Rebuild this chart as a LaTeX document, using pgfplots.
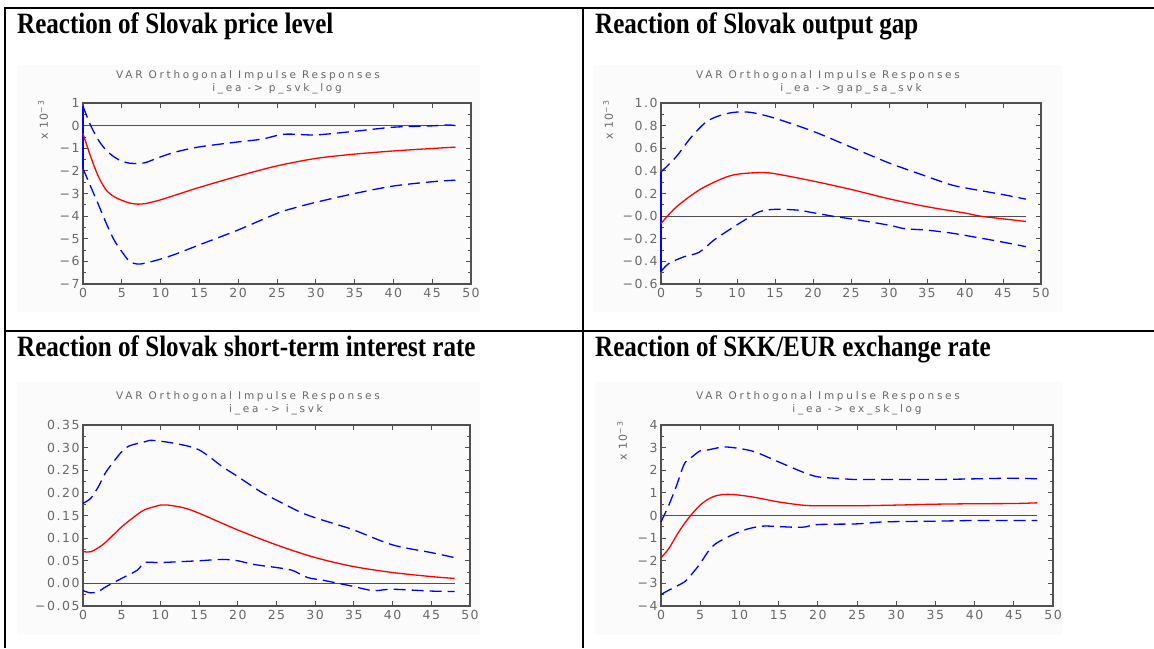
\documentclass[border=0pt]{standalone}
\usepackage{fontspec}
\usepackage{pgfplots}
\pgfplotsset{compat=1.18}
\newfontfamily\titlefont[FakeStretch=0.85]{Liberation Serif}
\newfontfamily\tickfont[LetterSpace=12]{DejaVu Sans}
\newfontfamily\headfont[LetterSpace=26]{DejaVu Sans}
\definecolor{axgray}{RGB}{80,80,80}
\definecolor{lblgray}{RGB}{105,105,105}
\definecolor{bggray}{RGB}{251,251,251}
\definecolor{irfred}{RGB}{255,0,0}
\definecolor{irfblue}{RGB}{0,0,255}

\pgfplotsset{
  irf/.style={
    scale only axis, anchor=south west, clip=false,
    xmin=0, xmax=50, xtick={0,5,...,50},
    xticklabels={0,5,10,15,20,25,30,35,40,45,50},
    axis line style={draw=axgray, line width=1.2pt},
    tick style={draw=axgray, line width=0.8pt},
    major tick length=5pt, minor tick length=3pt,
    minor y tick num=1,
    tick align=inside,
    tick label style={font=\fontsize{12.5}{12.5}\tickfont, text=lblgray},
    xticklabel style={yshift=-1pt},
  },
  band/.style={irfblue, line width=1.3pt, dash pattern=on 12pt off 6pt, smooth},
  mid/.style={irfred, line width=1.3pt, smooth},
  zero/.style={axgray, line width=1.2pt},
  edge/.style={irfblue, line width=1.3pt},
}
\newcommand\head[3]{%
  \node[font=\fontsize{10.5}{10.5}\headfont, text=lblgray] at (#1pt,#2pt) {#3};}

\begin{document}
\begin{tikzpicture}
\useasboundingbox (0,0) rectangle (1154pt,648pt);
% chart backgrounds
\fill[bggray] (17pt,336pt) rectangle (480pt,583pt);
\fill[bggray] (593pt,336pt) rectangle (1062pt,583pt);
\fill[bggray] (17pt,13pt) rectangle (480pt,266pt);
\fill[bggray] (595pt,13pt) rectangle (1062pt,266pt);

% table rules
\draw[line width=2pt] (4pt,640pt) -- (1154pt,640pt);
\draw[line width=2pt] (4pt,316.5pt) -- (1154pt,316.5pt);
\draw[line width=2pt] (5pt,641pt) -- (5pt,0pt);
\draw[line width=2pt] (582.5pt,641pt) -- (582.5pt,0pt);

% cell titles
\begin{scope}[every node/.style={anchor=base west, inner sep=0pt, font=\fontsize{29.5}{29.5}\titlefont\bfseries}]
\node at (17pt,614pt) {Reaction of Slovak price level};
\node at (595pt,614pt) {Reaction of Slovak output gap};
\node at (17pt,291pt) {Reaction of Slovak short-term interest rate};
\node at (595pt,291pt) {Reaction of SKK/EUR exchange rate};
\end{scope}

% price level
\begin{axis}[irf, at={(83pt,364pt)}, width=388pt, height=181pt,
  ymin=-7, ymax=1, ytick={-7,-6,...,1},
  yticklabels={−7,−6,−5,−4,−3,−2,−1,0,1}]
\addplot[zero] coordinates {(0,0) (48,0)};
\addplot[edge] coordinates {(0,-1.9) (0,0.85)};
\addplot[band] coordinates {(0,0.85)(1,0.0)(2,-0.65)(3,-1.09)(4,-1.38)(5,-1.57)(6,-1.66)(7,-1.67)(8,-1.64)(10,-1.38)(12,-1.16)(15,-0.94)(20,-0.72)(23,-0.60)(26,-0.38)(30,-0.41)(35,-0.25)(40,-0.07)(45,-0.01)(47,0.03)(48,0.0)};
\addplot[band] coordinates {(0,-1.9)(1,-2.7)(2,-3.5)(3,-4.32)(4,-5.05)(5,-5.57)(6,-6.0)(7,-6.12)(8,-6.08)(10,-5.9)(12,-5.67)(15,-5.27)(20,-4.61)(25,-3.88)(27,-3.66)(30,-3.39)(35,-3.0)(40,-2.67)(45,-2.48)(48,-2.41)};
\addplot[mid] coordinates {(0,-0.35)(1,-1.38)(2,-2.26)(3,-2.85)(4,-3.14)(5,-3.30)(6,-3.42)(7,-3.47)(8,-3.45)(9,-3.37)(10,-3.28)(12,-3.06)(15,-2.73)(20,-2.23)(25,-1.78)(30,-1.45)(35,-1.26)(40,-1.12)(45,-1.01)(48,-0.95)};
\end{axis}

% output gap
\begin{axis}[irf, at={(661pt,364pt)}, width=380pt, height=181pt,
  ymin=-0.6, ymax=1.0, ytick={-0.6,-0.4,...,1.0},
  yticklabels={−0.6,−0.4,−0.2,−0.0,0.2,0.4,0.6,0.8,1.0}]
\addplot[zero] coordinates {(0,0) (48,0)};
\addplot[edge] coordinates {(0,-0.49) (0,0.39)};
\addplot[band] coordinates {(0,0.39)(2,0.525)(4,0.70)(6,0.835)(8,0.895)(10,0.92)(12,0.915)(15,0.865)(20,0.75)(25,0.61)(30,0.47)(35,0.35)(38,0.28)(40,0.25)(45,0.19)(48,0.15)};
\addplot[band] coordinates {(0,-0.49)(1,-0.42)(3,-0.36)(5,-0.32)(7,-0.21)(9,-0.12)(11,-0.035)(13,0.04)(15,0.06)(18,0.053)(20,0.03)(23,-0.005)(25,-0.024)(30,-0.08)(32,-0.11)(35,-0.124)(38,-0.148)(40,-0.17)(45,-0.23)(48,-0.27)};
\addplot[mid] coordinates {(0,-0.065)(2,0.08)(5,0.23)(8,0.33)(10,0.37)(13,0.385)(15,0.375)(20,0.31)(25,0.236)(30,0.153)(35,0.083)(40,0.027)(42,0.0)(45,-0.024)(48,-0.047)};
\end{axis}

% short-term interest rate
\begin{axis}[irf, at={(83pt,42pt)}, width=387pt, height=181pt,
  ymin=-0.05, ymax=0.35, ytick={-0.05,0,0.05,0.10,0.15,0.20,0.25,0.30,0.35},
  yticklabels={−0.05,0.00,0.05,0.10,0.15,0.20,0.25,0.30,0.35}]
\addplot[zero] coordinates {(0,0) (48,0)};
\addplot[band] coordinates {(0,0.177)(1,0.188)(2,0.214)(3,0.247)(5,0.291)(6,0.304)(8,0.313)(9,0.316)(12,0.309)(15,0.295)(18,0.258)(20,0.236)(23,0.202)(25,0.184)(28,0.158)(30,0.145)(33,0.129)(35,0.118)(40,0.085)(45,0.068)(48,0.057)};
\addplot[band] coordinates {(0,-0.016)(1,-0.021)(2,-0.018)(3,-0.007)(5,0.011)(7,0.029)(8,0.046)(10,0.046)(15,0.05)(18,0.053)(20,0.05)(22,0.042)(25,0.035)(27,0.029)(29,0.013)(31,0.007)(33,0.0)(35,-0.007)(37,-0.015)(38,-0.016)(40,-0.013)(45,-0.017)(48,-0.018)};
\addplot[mid] coordinates {(0,0.07)(1,0.07)(2,0.079)(3,0.092)(5,0.125)(7,0.152)(8,0.163)(10,0.173)(11,0.173)(13,0.167)(15,0.155)(20,0.118)(25,0.085)(30,0.057)(35,0.037)(40,0.024)(45,0.015)(48,0.011)};
\end{axis}

% exchange rate
\begin{axis}[irf, at={(661pt,42pt)}, width=392pt, height=181pt,
  ymin=-4, ymax=4, ytick={-4,-3,...,4},
  yticklabels={−4,−3,−2,−1,0,1,2,3,4}]
\addplot[zero] coordinates {(0,0) (48,0)};
\addplot[band] coordinates {(0,-0.28)(1,0.46)(2,1.34)(3,2.3)(4,2.6)(5,2.86)(6,2.9)(8,3.03)(10,2.96)(12,2.81)(15,2.37)(18,1.93)(20,1.71)(23,1.63)(25,1.59)(30,1.59)(35,1.59)(40,1.62)(45,1.65)(48,1.62)};
\addplot[band] coordinates {(0,-3.49)(1,-3.3)(3,-2.93)(4,-2.56)(5,-2.12)(6,-1.6)(7,-1.24)(9,-0.87)(11,-0.6)(13,-0.47)(15,-0.49)(18,-0.52)(20,-0.4)(25,-0.37)(28,-0.29)(30,-0.27)(35,-0.25)(40,-0.22)(45,-0.22)(48,-0.22)};
\addplot[mid] coordinates {(0,-1.87)(1,-1.46)(2,-0.87)(3,-0.35)(4,0.09)(5,0.46)(6,0.72)(7,0.87)(8,0.93)(9,0.93)(10,0.9)(12,0.8)(15,0.6)(18,0.46)(20,0.43)(25,0.43)(30,0.46)(35,0.5)(40,0.52)(45,0.53)(48,0.56)};
\end{axis}

% chart headings
\head{248}{572}{VAR Orthogonal Impulse Responses}
\head{277}{559}{i\_ea -> p\_svk\_log}
\head{828}{572}{VAR Orthogonal Impulse Responses}
\head{851}{559}{i\_ea -> gap\_sa\_svk}
\head{248}{251}{VAR Orthogonal Impulse Responses}
\head{276}{238}{i\_ea -> i\_svk}
\head{828}{251}{VAR Orthogonal Impulse Responses}
\head{857}{238}{i\_ea -> ex\_sk\_log}

% scale labels
\begin{scope}[every node/.style={rotate=90, text=lblgray, font=\fontsize{11}{11}\tickfont}]
\node at (43pt,528pt) {x 10\textsuperscript{−3}};
\node at (608pt,528pt) {x 10\textsuperscript{−3}};
\node at (622pt,207pt) {x 10\textsuperscript{−3}};
\end{scope}
\end{tikzpicture}
\end{document}
